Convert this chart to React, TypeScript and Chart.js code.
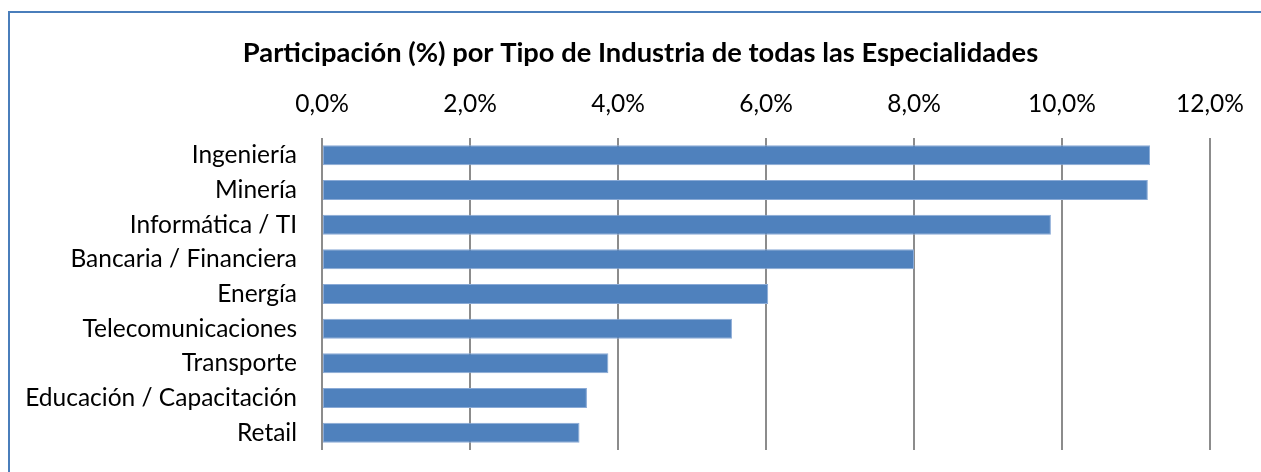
import React, { useEffect, useRef } from "react";
import { Chart, registerables } from "chart.js";

Chart.register(...registerables);

const TITLE = "Participación (%) por Tipo de Industria de todas las Especialidades";

const categories = [
  "Ingeniería",
  "Minería",
  "Informática / TI",
  "Bancaria / Financiera",
  "Energía",
  "Telecomunicaciones",
  "Transporte",
  "Educación / Capacitación",
  "Retail",
];

const participation = [11.19, 11.16, 9.85, 8.0, 6.03, 5.54, 3.87, 3.58, 3.48];

const xMin = 0;
const xMax = 12;
const xStep = 2;

const formatTick = (v: number) => v.toFixed(1).replace(".", ",") + "%";

const titlePlugin = {
  id: "centeredTitle",
  afterDraw(chart: any) {
    const ctx = chart.ctx;
    ctx.save();
    ctx.fillStyle = "#000000";
    ctx.font = "bold 27.3px Lato";
    ctx.textAlign = "center";
    ctx.textBaseline = "middle";
    ctx.fillText(TITLE, 640.5, 53);
    ctx.restore();
  },
};

export default function App() {
  const canvasRef = useRef<HTMLCanvasElement | null>(null);

  useEffect(() => {
    if (!canvasRef.current) return;
    const chart = new Chart(canvasRef.current, {
      type: "bar",
      data: {
        labels: categories,
        datasets: [
          {
            data: participation,
            backgroundColor: "#4F81BD",
            borderColor: "#8AAAD6",
            borderWidth: 1,
            borderSkipped: false,
            barPercentage: 0.575,
            categoryPercentage: 1,
          },
        ],
      },
      options: {
        indexAxis: "y",
        animation: false,
        responsive: false,
        maintainAspectRatio: false,
        devicePixelRatio: 1,
        layout: { padding: { left: 0, right: 51, top: 0, bottom: 22 } },
        plugins: {
          legend: { display: false },
          tooltip: { enabled: false },
          title: { display: false },
        },
        scales: {
          x: {
            position: "top",
            min: xMin,
            max: xMax,
            ticks: {
              stepSize: xStep,
              color: "#000000",
              font: { family: "Lato", size: 24.5 },
              padding: 19,
              maxRotation: 0,
              callback: (v: any) => formatTick(Number(v)),
            },
            grid: {
              color: "#8C8C8C",
              lineWidth: 2,
              drawTicks: false,
            },
            border: { display: false },
            afterFit: (scale: any) => {
              scale.height = 138;
              scale.paddingLeft = 0;
              scale.paddingRight = 0;
            },
          },
          y: {
            ticks: {
              color: "#000000",
              font: { family: "Lato", size: 24.5 },
              padding: 25,
              autoSkip: false,
            },
            grid: { display: false, drawTicks: false },
            border: { display: false },
            afterFit: (scale: any) => {
              scale.width = 322;
              scale.paddingTop = 0;
              scale.paddingBottom = 0;
            },
          },
        },
      },
      plugins: [titlePlugin],
    });
    return () => chart.destroy();
  }, []);

  return (
    <div
      style={{
        position: "fixed",
        left: 0,
        top: 0,
        width: 1261,
        height: 472,
        overflow: "hidden",
        background: "#ffffff",
      }}
    >
      <div
        style={{
          position: "absolute",
          left: 8,
          top: 11,
          width: 1300,
          height: 500,
          borderLeft: "2px solid #4A7EBB",
          borderTop: "2px solid #4A7EBB",
          boxSizing: "border-box",
        }}
      />
      <canvas
        ref={canvasRef}
        width={1261}
        height={472}
        style={{ position: "absolute", left: 0, top: 0, width: 1261, height: 472 }}
      />
    </div>
  );
}
